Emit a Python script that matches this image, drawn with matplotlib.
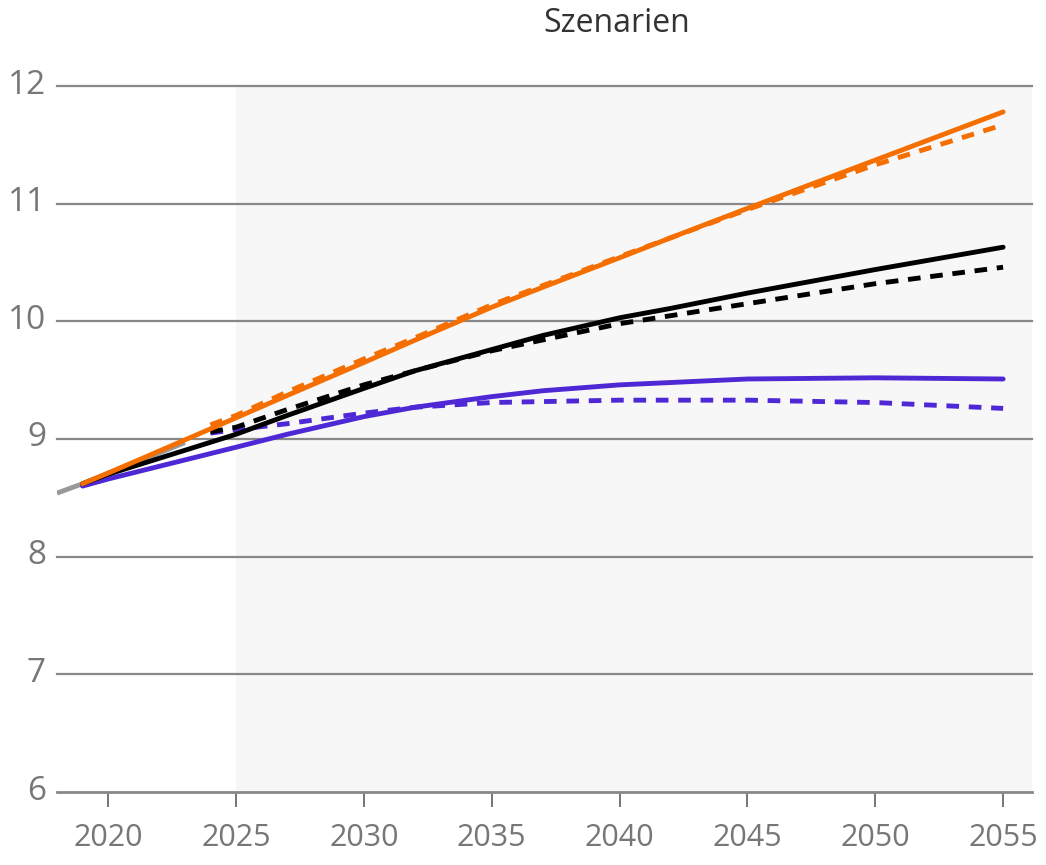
import numpy as np
import matplotlib
matplotlib.use("Agg")
import matplotlib.pyplot as plt
import matplotlib.transforms as mtransforms

plt.rcParams['font.family'] = ['Open Sans', 'DejaVu Sans']

# historische Werte (grau)
jahre_hist = [2018, 2019, 2020, 2021, 2022, 2023]
werte_hist = [8.54, 8.62, 8.71, 8.80, 8.88, 8.97]

# Szenarien, durchgezogen
jahre = [2019, 2020, 2025, 2027, 2030, 2032, 2035, 2037, 2040, 2042, 2045, 2050, 2055]
orange = [8.62, 8.71, 9.18, 9.37, 9.65, 9.84, 10.12, 10.29, 10.54, 10.71, 10.96, 11.37, 11.78]
schwarz = [8.62, 8.70, 9.04, 9.20, 9.43, 9.58, 9.76, 9.88, 10.03, 10.11, 10.24, 10.44, 10.63]
lila = [8.60, 8.66, 8.93, 9.04, 9.19, 9.27, 9.36, 9.41, 9.46, 9.48, 9.51, 9.52, 9.51]

# Szenarien, gestrichelt
jahre_d = [2024, 2025, 2027, 2030, 2032, 2035, 2040, 2045, 2050, 2055]
orange_d = [9.12, 9.20, 9.40, 9.68, 9.86, 10.14, 10.55, 10.95, 11.33, 11.67]
schwarz_d = [9.06, 9.10, 9.25, 9.46, 9.58, 9.75, 9.98, 10.15, 10.32, 10.46]
lila_d = [9.05, 9.08, 9.13, 9.22, 9.27, 9.31, 9.33, 9.33, 9.31, 9.26]

c_orange = '#f56e00'
c_lila = '#4f28d6'
c_schwarz = '#000000'
c_grau = '#777777'

fig = plt.figure(figsize=(10.46, 8.65), dpi=100)
ax = fig.add_axes([57/1046, 1-792/865, (1032-57)/1046, (792-86)/865])

x0, x1 = 2018.0, 2056.13
ax.set_xlim(x0, x1)
ax.set_ylim(6, 12)

# Szenario-Bereich
ax.axvspan(2025, x1, color='#f7f7f7', zorder=0, lw=0)

for v in range(7, 13):
    ax.axhline(v, color='#888888', lw=1.6, zorder=1, clip_on=False)

lw = 3.5
dash = (0, (2.6, 2.0))
ax.plot(jahre_hist, werte_hist, color='#999999', lw=lw, zorder=2, solid_capstyle='butt')
ax.plot(jahre_d, lila_d, color=c_lila, lw=lw, ls=dash, zorder=3)
ax.plot(jahre, lila, color=c_lila, lw=lw, zorder=3, solid_capstyle='round')
ax.plot(jahre, schwarz, color=c_schwarz, lw=lw, zorder=4, solid_capstyle='round')
ax.plot(jahre_d, schwarz_d, color=c_schwarz, lw=lw, ls=dash, zorder=4)
ax.plot(jahre_d, orange_d, color=c_orange, lw=lw, ls=dash, zorder=5)
ax.plot(jahre, orange, color=c_orange, lw=lw, zorder=5, solid_capstyle='round')

for s in ['top', 'right', 'left']:
    ax.spines[s].set_visible(False)
ax.spines['bottom'].set_color('#888888')
ax.spines['bottom'].set_linewidth(2)

ax.set_xticks(range(2020, 2060, 5))
ax.set_yticks(range(6, 13))
ax.tick_params(axis='x', length=11, width=1.4, color='#777777', labelcolor=c_grau,
               labelsize=22, pad=11)
ax.tick_params(axis='y', length=0, labelcolor=c_grau, labelsize=24, pad=8)

# Beschriftung der y-Achse etwas nach oben
hoch = mtransforms.ScaledTranslation(0, 5/100, fig.dpi_scale_trans)
for lab in ax.get_yticklabels():
    lab.set_transform(lab.get_transform() + hoch)

fig.text(617/1046, 1-24/865, 'Szenarien', ha='center', va='center',
         fontsize=23, color='#333333')

fig.savefig('out.png', dpi=100)
